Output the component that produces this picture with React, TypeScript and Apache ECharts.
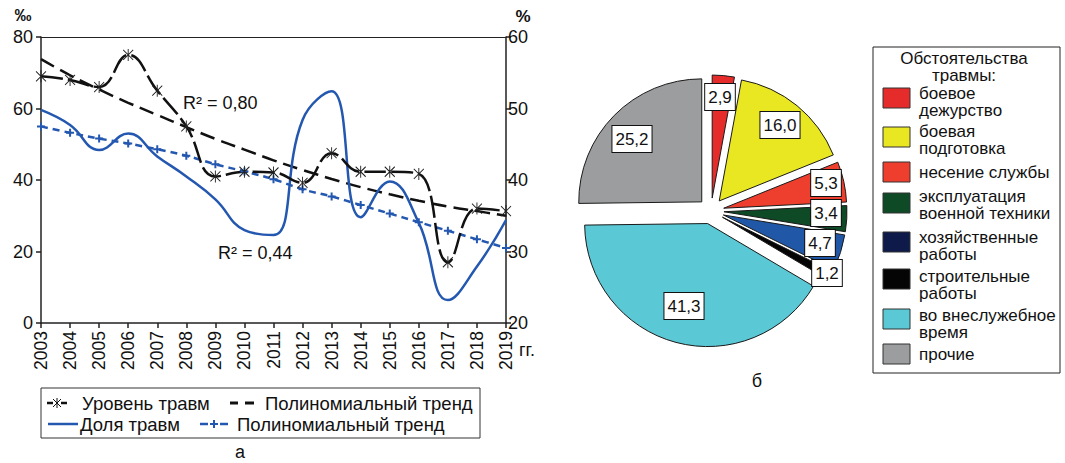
import React, { useEffect, useRef } from 'react';
import * as echarts from 'echarts';

// ---------- data ----------
const years = ['2003', '2004', '2005', '2006', '2007', '2008', '2009', '2010', '2011', '2012', '2013', '2014', '2015', '2016', '2017', '2018', '2019'];
// Уровень травм, ‰ (left axis)
const injuryLevel = [69, 68, 66, 75, 65, 55, 41, 42.3, 42.1, 39.2, 47.5, 42.3, 42.3, 41.7, 17, 32, 31.3];
const injuryLevelTrend = [73.8, 69.3, 65.3, 61.6, 58.2, 54.8, 51.5, 48.5, 45.5, 42.8, 40.3, 38, 36, 34.2, 32.6, 31.3, 30];
// Доля травм, % (right axis)
const injuryShare = [49.8, 47.7, 44.2, 46.5, 43.3, 40.5, 37.3, 33, 32.3, 48.4, 52.4, 34.8, 39.8, 34, 23.2, 27.9, 34.4];
const injuryShareTrend = [47.5, 46.6, 45.8, 45.1, 44.3, 43.4, 42.2, 41.2, 40.1, 38.7, 37.7, 36.5, 35.3, 34.1, 32.9, 31.7, 30.5];
const leftTicks = { min: 0, max: 80, interval: 20 };
const rightTicks = { min: 20, max: 60, interval: 10 };
const r2Level = 'R² = 0,80';
const r2Share = 'R² = 0,44';

// Pie: обстоятельства травмы, %
const circumstances = ['боевое дежурство', 'боевая подготовка', 'несение службы', 'эксплуатация военной техники', 'хозяйственные работы', 'строительные работы', 'во внеслужебное время', 'прочие'];
const circumstanceLines = ['боевое\nдежурство', 'боевая\nподготовка', 'несение службы', 'эксплуатация\nвоенной техники', 'хозяйственные\nработы', 'строительные\nработы', 'во внеслужебное\nвремя', 'прочие'];
const shares = [2.9, 16.0, 5.3, 3.4, 4.7, 1.2, 41.3, 25.2];

// ---------- styles / layout ----------
const FONT = '"Liberation Sans", Arial, sans-serif';
const pieColors = ['#e52c2b', '#e9e622', '#ee3e2d', '#0d4a25', '#2157a7', '#050505', '#5bc8d5', '#9b9d9e'];
const legendColors = ['#e52c2b', '#e9e622', '#ee3e2d', '#0d4a25', '#0d1a4a', '#050505', '#5bc8d5', '#9b9d9e'];
const pieLabelPos = [[720, 97], [780, 125], [826, 183], [826, 213], [820, 243], [827, 273], [684, 306], [632, 139]];
const pieLegendY = [98, 137, 172, 203, 242, 279, 319, 354];
const pieLegendTextY = [101.5, 139.5, 172, 205, 246, 285, 324, 354];
const BLUE = '#2458b0';
const ASTERISK = 'path://M5,0 L5,12 M0,1 L10,11 M0,11 L10,1';
const PLUS = 'path://M5,0 L5,10 M0,5 L10,5';

const fmt = (v: number) => v.toFixed(1).replace('.', ',');

function buildGraphics() {
  const g: any[] = [];
  const txt = (x: number, y: number, text: string, extra: any = {}) => ({
    type: 'text', x, y,
    style: { text, fill: '#111', font: `18.5px ${FONT}`, textVerticalAlign: 'middle', ...extra },
  });
  const ln = (x1: number, y1: number, x2: number, y2: number, stroke: string, lineWidth = 2.5) => ({
    type: 'line', shape: { x1, y1, x2, y2 }, style: { stroke, lineWidth },
  });
  // axis units
  g.push(txt(23, 15, '‰', { textAlign: 'center', font: `bold 17px ${FONT}` }));
  g.push(txt(523, 16, '%', { textAlign: 'center', font: `bold 17px ${FONT}` }));
  g.push(txt(519, 350, 'гг.', { font: `18px ${FONT}` }));
  // R² labels
  g.push(txt(183, 103, r2Level, { font: `18px ${FONT}` }));
  g.push(txt(218, 253, r2Share, { font: `18px ${FONT}` }));
  // left legend box
  g.push({ type: 'rect', shape: { x: 41, y: 388, width: 439, height: 50 }, style: { fill: '#fff', stroke: '#333', lineWidth: 1 } });
  g.push(ln(47, 403, 53, 403, '#111'));
  g.push(ln(61, 403, 67, 403, '#111'));
  g.push(ln(57, 398, 57, 408, '#111', 1));
  g.push(ln(53, 399, 61, 407, '#111', 1));
  g.push(ln(53, 407, 61, 399, '#111', 1));
  g.push(txt(82, 403, 'Уровень травм'));
  g.push(ln(230, 403, 238, 403, '#111', 3));
  g.push(ln(245, 403, 254, 403, '#111', 3));
  g.push(txt(265, 403, 'Полиномиальный тренд'));
  g.push(ln(48, 424, 78, 424, BLUE));
  g.push(txt(80, 424, 'Доля травм'));
  g.push(ln(200, 424, 208, 424, BLUE));
  g.push(ln(220, 424, 228, 424, BLUE));
  g.push(ln(210, 424, 218, 424, BLUE, 2));
  g.push(ln(214, 420, 214, 428, BLUE, 2));
  g.push(txt(237, 424, 'Полиномиальный тренд'));
  g.push(txt(240, 452, 'а', { textAlign: 'center', font: `18px ${FONT}` }));
  g.push(txt(757, 381, 'б', { textAlign: 'center', font: `18px ${FONT}` }));
  // pie value labels (from data)
  shares.forEach((v, i) => {
    g.push({
      type: 'text', x: pieLabelPos[i][0], y: pieLabelPos[i][1], z: 100,
      style: {
        text: fmt(v), fill: '#111', font: `17px ${FONT}`, align: 'center', verticalAlign: 'middle',
        backgroundColor: '#fff', borderColor: '#111', borderWidth: 1, padding: [5, 3, 4, 3],
      },
    });
  });
  // pie legend
  g.push({ type: 'rect', shape: { x: 873, y: 47, width: 187, height: 326 }, style: { fill: '#fff', stroke: '#222', lineWidth: 1 } });
  g.push(txt(964, 67, 'Обстоятельства\nтравмы:', { textAlign: 'center', font: `17px ${FONT}`, lineHeight: 17 }));
  circumstanceLines.forEach((name, i) => {
    const cy = pieLegendY[i];
    g.push({ type: 'rect', shape: { x: 883, y: cy - 10, width: 27, height: 20 }, style: { fill: legendColors[i], stroke: '#333', lineWidth: 1 } });
    g.push({
      type: 'text', x: 919, y: pieLegendTextY[i],
      style: { text: name, fill: '#111', font: `17px ${FONT}`, lineHeight: 17, textVerticalAlign: 'middle' },
    });
  });
  return g;
}

export default function App() {
  const ref = useRef<HTMLDivElement>(null);
  useEffect(() => {
    if (!ref.current) return;
    const chart = echarts.init(ref.current, null, { renderer: 'svg' });
    const axisColor = '#222';
    chart.setOption({
      animation: false,
      textStyle: { fontFamily: FONT },
      grid: { left: 41, right: 559, top: 37, bottom: 140 },
      xAxis: [
        {
          type: 'category', data: years, boundaryGap: false,
          axisLine: { lineStyle: { color: axisColor, width: 1.5 } },
          axisTick: { length: 5, alignWithLabel: true, lineStyle: { color: axisColor, width: 1.5 } },
          axisLabel: { rotate: 90, fontSize: 17.5, color: '#111', margin: 8, interval: 0, fontFamily: FONT },
        },
        {
          type: 'category', data: years, boundaryGap: false, position: 'top',
          axisLine: { lineStyle: { color: axisColor, width: 1 } },
          axisTick: { show: false }, axisLabel: { show: false },
        },
      ],
      yAxis: [
        {
          type: 'value', ...leftTicks,
          axisLine: { show: true, lineStyle: { color: axisColor, width: 1.5 } },
          axisTick: { show: true, length: 5, lineStyle: { color: axisColor, width: 1.5 } },
          splitLine: { show: false },
          axisLabel: { fontSize: 18, color: '#111', margin: 8, fontFamily: FONT },
        },
        {
          type: 'value', position: 'right', ...rightTicks,
          axisLine: { show: true, lineStyle: { color: axisColor, width: 1.5 } },
          axisTick: { show: true, length: 5, lineStyle: { color: axisColor, width: 1.5 } },
          splitLine: { show: false },
          axisLabel: { fontSize: 18, color: '#111', margin: 2, fontFamily: FONT },
        },
      ],
      series: [
        {
          name: 'Полиномиальный тренд (уровень)', type: 'line', data: injuryLevelTrend, yAxisIndex: 0,
          smooth: 0.4, showSymbol: false, symbol: 'none',
          lineStyle: { color: '#111', width: 2.5, type: [15, 7] },
        },
        {
          name: 'Полиномиальный тренд (доля)', type: 'line', data: injuryShareTrend, yAxisIndex: 1,
          smooth: 0.4, symbol: PLUS, symbolSize: 8,
          itemStyle: { color: 'rgba(0,0,0,0)', borderColor: BLUE, borderWidth: 2 },
          lineStyle: { color: BLUE, width: 2.5, type: [7, 5] },
        },
        {
          name: 'Доля травм', type: 'line', data: injuryShare, yAxisIndex: 1,
          smooth: 0.45, showSymbol: false, symbol: 'none',
          lineStyle: { color: BLUE, width: 2.5 },
        },
        {
          name: 'Уровень травм', type: 'line', data: injuryLevel, yAxisIndex: 0,
          smooth: 0.45, symbol: ASTERISK, symbolSize: [10, 12],
          itemStyle: { color: 'rgba(0,0,0,0)', borderColor: '#222', borderWidth: 1 },
          lineStyle: { color: '#111', width: 2.5, type: [22, 5] },
        },
        {
          name: 'Обстоятельства травмы', type: 'pie',
          center: [711, 211], radius: 123, startAngle: 90, clockwise: true,
          selectedMode: 'multiple', selectedOffset: 13,
          emphasis: { disabled: true },
          itemStyle: { borderColor: '#1a1a1a', borderWidth: 1 },
          data: circumstances.map((name, i) => ({
            name, value: shares[i], selected: true,
            itemStyle: { color: pieColors[i] },
          })),
          label: { show: false },
          labelLine: { show: false },
        },
      ],
      graphic: buildGraphics(),
    });
    return () => chart.dispose();
  }, []);
  return <div ref={ref} style={{ width: 1065, height: 463, position: 'absolute', left: 0, top: 0, background: '#fff' }} />;
}
